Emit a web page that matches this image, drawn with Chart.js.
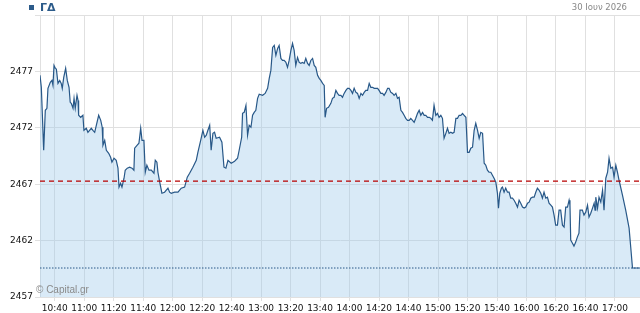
<!DOCTYPE html>
<html>
<head>
<meta charset="utf-8">
<script src="https://cdn.jsdelivr.net/npm/chart.js@4.4.1/dist/chart.umd.min.js"></script>
<style>
  html, body { margin: 0; padding: 0; background: #fff; }
  #wrap { position: relative; width: 640px; height: 313px; }
  .legend { position: absolute; left: 29px; top: 1px; font: bold 11px "DejaVu Sans", sans-serif; color: #2c5b8a; }
  .legend i { display: inline-block; width: 5px; height: 5px; background: #2c5b8a; margin-right: 6px; vertical-align: 1px; }
  .date { position: absolute; right: 13px; top: 2px; font: 8.5px "DejaVu Sans", sans-serif; color: #888; }
  .copy { position: absolute; left: 36px; top: 284px; font: 10px "Liberation Sans", sans-serif; color: #8a8a8a; }
</style>
</head>
<body>
<div id="wrap">
  <canvas id="chart" width="640" height="313"></canvas>
  <div class="legend"><i></i>ΓΔ</div>
  <div class="date">30 Ιουν 2026</div>
  <div class="copy">© Capital.gr</div>
</div>
<script>
// minutes since midnight
const times = [
  630.0, 630.9, 632.5, 633.6, 634.7, 635.4, 637.0, 638.1, 638.8, 639.5,
  640.4, 641.1, 642.2, 643.4, 644.4, 645.1, 646.1, 647.4, 648.5, 649.7,
  650.5, 651.2, 652.4, 653.1, 653.9, 655.1, 655.8, 656.2, 657.6, 659.1,
  659.8, 661.4, 662.5, 664.8, 665.9, 667.1, 668.2, 669.8, 671.2, 672.2,
  672.7, 673.9, 675.0, 676.6, 677.9, 678.8, 680.2, 681.7, 682.9, 683.6,
  684.7, 685.6, 687.0, 687.8, 689.2, 690.8, 692.4, 693.7, 694.2, 695.8,
  697.1, 697.6, 698.3, 699.2, 700.5, 701.4, 702.5, 703.9, 705.5, 707.3,
  708.2, 709.3, 710.0, 711.2, 712.7, 714.5, 716.8, 717.9, 719.0, 721.3,
  723.6, 725.8, 728.1, 729.9, 731.5, 733.7, 736.0, 737.1, 739.0, 740.5,
  741.7, 742.8, 743.9, 745.1, 746.1, 747.3, 748.4, 749.5, 751.8, 753.4,
  754.8, 756.1, 757.5, 759.7, 762.0, 764.0, 765.1, 766.8, 767.4, 768.5,
  769.7, 770.8, 771.9, 773.1, 774.2, 775.3, 776.4, 777.6, 778.7, 781.0,
  782.7, 784.4, 785.5, 786.6, 787.8, 788.9, 790.0, 791.2, 792.2, 793.4,
  794.5, 795.6, 796.8, 797.9, 799.0, 800.2, 801.3, 802.4, 803.5, 804.7,
  805.8, 806.9, 808.1, 809.2, 810.3, 811.5, 812.6, 813.7, 814.9, 816.0,
  817.1, 818.3, 819.4, 820.5, 821.7, 822.8, 823.4, 824.4, 825.7, 827.3,
  828.4, 829.5, 830.7, 831.8, 832.9, 834.1, 835.2, 836.3, 837.5, 838.6,
  839.7, 840.9, 842.0, 843.1, 844.3, 845.4, 846.5, 847.7, 848.8, 849.9,
  851.0, 852.2, 853.3, 854.4, 855.6, 856.7, 857.8, 859.0, 860.0, 861.2,
  862.4, 863.4, 864.6, 865.8, 866.8, 868.0, 869.2, 870.2, 871.4, 872.5,
  873.6, 874.8, 875.9, 877.0, 878.1, 879.3, 880.4, 881.5, 882.7, 883.8,
  884.9, 886.1, 887.2, 888.3, 889.5, 890.6, 891.7, 892.9, 894.0, 895.1,
  896.2, 897.3, 898.5, 899.6, 900.7, 901.9, 903.0, 904.1, 905.3, 906.4,
  907.5, 908.7, 909.8, 910.9, 912.1, 913.2, 914.3, 915.5, 916.6, 917.7,
  918.9, 920.0, 921.1, 922.2, 923.4, 924.5, 925.6, 926.8, 927.9, 929.0,
  930.2, 931.3, 932.4, 933.5, 934.6, 935.8, 936.9, 938.0, 939.2, 940.3,
  941.0, 941.9, 943.0, 943.7, 944.8, 945.9, 947.1, 948.2, 949.3, 950.5,
  951.6, 952.7, 953.9, 955.0, 956.1, 957.3, 958.4, 959.5, 960.7, 961.8,
  962.9, 964.1, 965.2, 966.3, 967.4, 968.5, 969.7, 970.8, 971.9, 973.1,
  974.2, 975.3, 976.5, 977.6, 978.7, 979.8, 981.0, 982.1, 983.2, 984.4,
  985.5, 986.6, 987.8, 988.9, 989.5, 990.0, 991.1, 992.2, 993.4, 994.5,
  995.6, 996.3, 997.9, 999.0, 1000.2, 1001.4, 1002.4, 1003.6, 1004.8, 1005.9,
  1006.5, 1007.0, 1008.2, 1009.2, 1010.4, 1011.6, 1012.6, 1013.8, 1015.0, 1016.0,
  1017.2, 1018.4, 1019.4, 1020.6, 1021.7, 1022.8, 1025.1, 1027.3, 1029.6, 1030.7,
  1031.9, 1037.0
];

const prices = [
  2476.65, 2475.59, 2470.01, 2473.55, 2473.73, 2475.50, 2476.03, 2476.20, 2475.76, 2477.53,
  2477.27, 2477.20, 2475.94, 2476.20, 2475.94, 2475.50, 2476.47, 2477.27, 2476.20, 2475.59,
  2474.26, 2474.17, 2473.73, 2474.61, 2473.73, 2474.88, 2474.43, 2473.11, 2472.93, 2473.11,
  2471.78, 2471.96, 2471.60, 2471.96, 2471.78, 2471.60, 2472.22, 2473.11, 2472.66, 2472.05,
  2470.45, 2470.89, 2470.01, 2469.74, 2469.39, 2468.95, 2469.30, 2469.12, 2468.42, 2466.74,
  2467.09, 2466.74, 2467.53, 2468.24, 2468.42, 2468.51, 2468.42, 2468.24, 2470.19, 2470.45,
  2470.63, 2471.16, 2471.96, 2470.89, 2470.89, 2468.06, 2468.68, 2468.24, 2468.24, 2467.97,
  2469.12, 2468.95, 2468.06, 2467.18, 2466.20, 2466.29, 2466.65, 2466.29, 2466.20, 2466.29,
  2466.29, 2466.65, 2466.74, 2467.62, 2467.97, 2468.51, 2469.12, 2469.83, 2470.89, 2471.78,
  2471.16, 2471.34, 2471.78, 2472.22, 2470.01, 2471.51, 2471.60, 2471.07, 2471.16, 2470.72,
  2468.51, 2468.42, 2469.12, 2468.86, 2469.04, 2469.30, 2470.01, 2471.16, 2473.28, 2473.37,
  2473.99, 2471.34, 2472.22, 2472.05, 2473.11, 2473.37, 2473.55, 2474.61, 2474.97, 2474.88,
  2475.05, 2475.50, 2476.38, 2477.09, 2479.13, 2479.30, 2478.42, 2479.04, 2479.30, 2478.15,
  2477.97, 2477.97, 2477.80, 2477.36, 2477.97, 2478.86, 2479.48, 2478.86, 2477.53, 2478.24,
  2477.80, 2477.71, 2477.80, 2477.71, 2478.15, 2477.71, 2477.53, 2477.97, 2478.15, 2477.53,
  2477.36, 2476.65, 2476.38, 2476.20, 2475.94, 2475.76, 2472.93, 2473.73, 2473.82, 2474.17,
  2474.61, 2474.70, 2475.32, 2475.05, 2474.88, 2474.88, 2474.70, 2475.05, 2475.32, 2475.50,
  2475.50, 2475.32, 2475.05, 2475.50, 2475.14, 2475.05, 2474.61, 2475.05, 2474.88, 2475.14,
  2475.32, 2475.32, 2475.94, 2475.59, 2475.59, 2475.50, 2475.50, 2475.50, 2475.32, 2475.05,
  2475.05, 2474.88, 2475.14, 2475.50, 2475.50, 2475.14, 2475.05, 2474.88, 2475.05, 2474.61,
  2474.70, 2473.55, 2473.37, 2473.11, 2472.84, 2472.66, 2472.66, 2472.84, 2472.66, 2472.49,
  2472.84, 2473.28, 2473.55, 2473.11, 2473.37, 2473.11, 2473.11, 2472.93, 2472.93, 2472.84,
  2472.66, 2473.99, 2473.11, 2473.28, 2472.93, 2473.11, 2472.84, 2471.07, 2471.51, 2471.96,
  2471.51, 2471.60, 2471.51, 2471.60, 2472.84, 2472.84, 2473.11, 2473.11, 2473.28, 2473.11,
  2472.93, 2469.83, 2469.83, 2470.19, 2470.28, 2471.78, 2472.40, 2471.78, 2471.07, 2471.60,
  2471.51, 2468.86, 2468.68, 2468.24, 2468.06, 2468.06, 2467.80, 2467.53, 2467.18, 2466.20,
  2464.88, 2466.20, 2466.65, 2466.74, 2466.29, 2466.65, 2466.29, 2466.29, 2465.76, 2465.76,
  2465.58, 2465.32, 2464.97, 2465.58, 2465.32, 2464.97, 2464.88, 2464.97, 2465.32, 2465.41,
  2465.76, 2465.85, 2465.85, 2466.29, 2466.65, 2466.47, 2466.20, 2465.76, 2466.29, 2465.76,
  2465.85, 2465.32, 2465.14, 2464.97, 2464.26, 2463.37, 2463.37, 2464.70, 2464.70, 2463.37,
  2463.20, 2464.97, 2464.97, 2465.58, 2465.14, 2462.04, 2461.78, 2461.51, 2461.87, 2462.31,
  2462.66, 2464.70, 2464.70, 2464.26, 2464.52, 2465.14, 2464.08, 2464.43, 2464.88, 2465.32,
  2464.70, 2465.85, 2464.88, 2465.85, 2465.41, 2466.47, 2464.70, 2467.53, 2468.06, 2469.30,
  2468.42, 2468.51, 2467.62, 2468.68, 2468.06, 2467.35, 2466.03, 2464.70, 2463.11, 2461.43,
  2459.57, 2459.57
];

const prevClose = 2467.27;
const lastPrice = 2459.57;

const xTickLabels = ['10:40', '11:00', '11:20', '11:40', '12:00', '12:20', '12:40', '13:00', '13:20', '13:40',
  '14:00', '14:20', '14:40', '15:00', '15:20', '15:40', '16:00', '16:20', '16:40', '17:00'];
const yTicks = [2457, 2462, 2467, 2472, 2477, 2482];

const xMin = 630;   // 10:30
const xMax = 1037;  // 17:17

const LINE = '#285888';
const GRID = '#e0e0e0';
const tickFont = { family: 'DejaVu Sans', size: 9 };

const toMin = s => { const [h, m] = s.split(':').map(Number); return h * 60 + m; };
const toLabel = v => {
  const h = Math.floor(v / 60), m = Math.round(v % 60);
  return h + ':' + String(m).padStart(2, '0');
};

const series = times.map((t, i) => ({ x: t, y: prices[i] }));

new Chart(document.getElementById('chart'), {
  type: 'line',
  data: {
    datasets: [
      {
        data: series,
        borderColor: LINE,
        borderWidth: 1.2,
        backgroundColor: 'rgba(160, 202, 235, 0.4)',
        fill: 'start',
        pointRadius: 0,
        tension: 0,
        order: 2
      },
      {
        data: [{ x: xMin, y: prevClose }, { x: xMax, y: prevClose }],
        borderColor: '#b80000',
        borderWidth: 1.2,
        borderDash: [5, 4],
        pointRadius: 0,
        fill: false,
        order: 1
      },
      {
        data: [{ x: xMin, y: lastPrice }, { x: xMax, y: lastPrice }],
        borderColor: LINE,
        borderWidth: 1,
        borderDash: [1.5, 1.5],
        pointRadius: 0,
        fill: false,
        order: 1
      }
    ]
  },
  options: {
    responsive: false,
    devicePixelRatio: 1,
    animation: false,
    layout: { padding: { top: 15, right: 0, left: 0, bottom: 0 } },
    plugins: { legend: { display: false }, tooltip: { enabled: false } },
    scales: {
      x: {
        type: 'linear',
        min: xMin,
        max: xMax,
        afterBuildTicks: s => { s.ticks = xTickLabels.map(l => ({ value: toMin(l) })); },
        afterFit: s => { s.height = 16; },
        grid: { color: GRID, tickLength: 4 },
        border: { color: GRID },
        ticks: {
          autoSkip: false,
          maxRotation: 0,
          padding: 2,
          color: '#111',
          font: tickFont,
          callback: v => toLabel(v)
        }
      },
      y: {
        min: yTicks[0],
        max: yTicks[yTicks.length - 1],
        afterBuildTicks: s => { s.ticks = yTicks.map(v => ({ value: v })); },
        afterFit: s => { s.width = 40; },
        grid: { color: GRID, tickLength: 5 },
        border: { color: GRID },
        ticks: {
          padding: 2,
          color: '#111',
          font: tickFont,
          callback: v => (v === yTicks[yTicks.length - 1] ? '' : v)
        }
      }
    }
  }
});
</script>
</body>
</html>
